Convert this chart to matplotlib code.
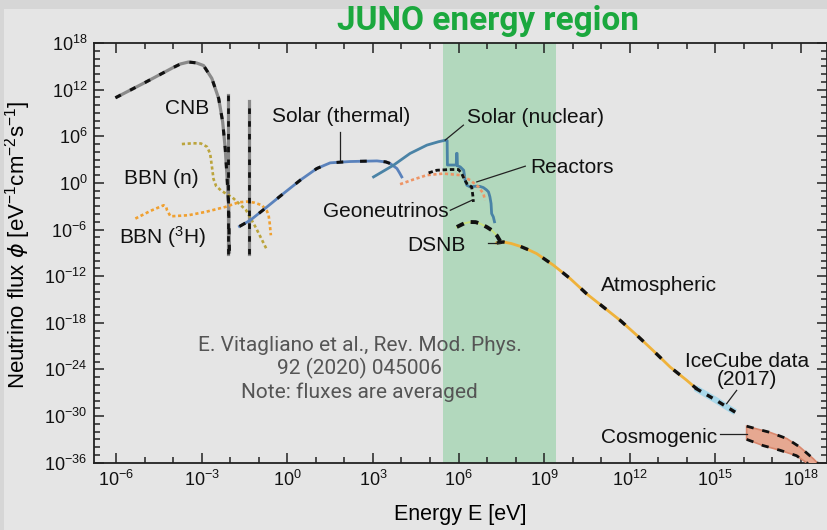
import numpy as np
import matplotlib
matplotlib.use("Agg")
import matplotlib.pyplot as plt
from matplotlib.patches import Rectangle
from matplotlib.ticker import LogLocator, FixedLocator, NullFormatter

plt.rcParams['font.family'] = ['Liberation Sans', 'DejaVu Sans']
plt.rcParams['mathtext.fontset'] = 'custom'
plt.rcParams['mathtext.rm'] = 'Liberation Sans'
plt.rcParams['mathtext.it'] = 'DejaVu Sans:italic'
plt.rcParams['mathtext.default'] = 'regular'

# ---- spectra: log10(E / eV) and log10(flux / eV^-1 cm^-2 s^-1) ----
cnb_logE = [-6.03, -5.0, -4.0, -3.75, -3.47, -3.2, -2.94, -2.65, -2.41, -2.27,
            -2.18, -2.12, -2.06, -2.04, -2.03]
cnb_logF = [10.95, 12.9, 14.85, 15.3, 15.55, 15.45, 15.1, 13.45, 10.87, 7.86,
            4.43, 0.99, -2.88, -7.6, -9.1]
cnb_line_logE = [-2.07, -1.33]
cnb_line_top = [11.3, 10.5]
cnb_line_bottom = -9.2

bbn_n_logE = [-3.70, -3.3, -3.03, -2.82, -2.71, -2.65, -2.59, -2.5, -2.32, -1.92,
              -1.45, -1.1, -0.72]
bbn_n_logF = [5.0, 5.1, 5.07, 4.65, 3.8, 2.2, 0.5, -0.4, -1.0, -1.9,
              -3.5, -5.8, -8.6]

bbn_h3_logE = [-5.33, -4.8, -4.34, -4.25, -4.22, -4.1, -3.47, -2.88, -2.18, -1.71,
               -1.4, -1.15, -0.89, -0.72, -0.66, -0.62, -0.58]
bbn_h3_logF = [-4.59, -3.6, -2.88, -3.1, -3.52, -4.3, -4.16, -3.74, -3.1, -2.5,
               -2.4, -2.55, -2.88, -3.6, -4.16, -5.2, -6.74]

sun_th_logE = [-1.68, -1.30, -0.72, -0.14, 0.45, 1.03, 1.5, 2.2, 2.8, 3.14,
               3.45, 3.6, 3.75, 3.84, 3.93, 4.01]
sun_th_logF = [-5.6, -4.8, -3.1, -1.37, 0.35, 1.85, 2.58, 2.75, 2.8, 2.83,
               2.7, 2.5, 2.1, 1.85, 1.3, 0.77]

sun_nu_logE = [3.02, 3.72, 4.30, 4.89, 5.3, 5.55, 5.6, 5.61, 5.92, 5.93, 5.95,
               5.96, 6.06, 6.18, 6.23, 6.29, 6.41, 6.58, 6.75, 6.87, 6.98, 7.05,
               7.1, 7.14, 7.16, 7.22, 7.26]
sun_nu_logF = [0.77, 2.28, 3.79, 4.86, 5.3, 5.5, 5.45, 2.3, 2.3, 3.8, 3.8,
               2.2, 2.06, 1.63, 0.35, -0.3, -0.52, -0.43, -0.45, -0.6, -0.9, -1.16,
               -1.8, -2.66, -3.95, -4.38, -5.0]

geo_logE = [4.95, 5.24, 5.71, 6.0, 6.11, 6.2, 6.29, 6.46, 6.5, 6.52]
geo_logF = [1.29, 1.63, 1.72, 1.72, 1.2, 0.5, -0.08, -0.52, -1.6, -2.45]

reac_logE = [3.95, 4.42, 4.89, 5.47, 6.06, 6.41, 6.70, 6.87, 6.93]
reac_logF = [-0.17, 0.44, 1.0, 1.2, 1.0, 0.35, -0.52, -1.37, -2.23]

dsnb_logE = [5.94, 6.2, 6.41, 6.6, 6.76, 7.0, 7.17, 7.35, 7.46]
dsnb_logF = [-5.67, -5.2, -5.03, -5.05, -5.24, -5.7, -6.1, -6.8, -7.5]

atm_logE = [7.34, 7.57, 7.85, 8.16, 8.45, 8.74, 9.33, 9.91, 10.5, 11.08, 11.67,
            12.25, 12.83, 13.42, 14.0, 14.35]
atm_logF = [-7.73, -7.6, -7.8, -8.16, -8.6, -9.1, -10.6, -12.3, -14.3, -15.98,
            -17.7, -19.6, -21.6, -23.7, -25.4, -26.5]

ice_logE = [14.3, 15.0, 15.7]
ice_logF = [-26.4, -27.9, -29.5]

cosmo_logE_up = [16.1, 16.5, 16.92, 17.51, 17.97, 18.44, 18.6]
cosmo_logF_up = [-31.3, -31.7, -32.1, -32.9, -34.0, -35.5, -36.1]
cosmo_logE_lo = [16.1, 16.68, 17.27, 17.85, 18.2, 18.3]
cosmo_logF_lo = [-33.0, -33.8, -34.4, -35.1, -36.0, -36.3]

juno_logE = [5.44, 9.4]

x_ticks_log = [-6, -3, 0, 3, 6, 9, 12, 15, 18]
y_ticks_log = [18, 12, 6, 0, -6, -12, -18, -24, -30, -36]


def p(v):
    return 10.0 ** np.asarray(v, dtype=float)


def pow_label(v):
    return '$10^{%d}$' % v if v >= 0 else '$10^{\u2212%d}$' % -v


W, H = 827, 530
fig = plt.figure(figsize=(W / 100, H / 100), dpi=100)
fig.patch.set_facecolor('#e5e5e5')
# slide backdrop strips along the top and left edges
fig.patches.append(Rectangle((0, 1 - 9 / H), 1, 9 / H, transform=fig.transFigure,
                             facecolor='#d6d6d6', edgecolor='none', zorder=0))
fig.patches.append(Rectangle((0, 0), 4 / W, 1, transform=fig.transFigure,
                             facecolor='#d6d6d6', edgecolor='none', zorder=0))

left_px, right_px, top_px, bot_px = 94.3, 826.5, 43.0, 462.7
ax = fig.add_axes([left_px / W, 1 - bot_px / H, (right_px - left_px) / W,
                   (bot_px - top_px) / H])
ax.set_facecolor('none')
ax.set_xscale('log')
ax.set_yscale('log')
ax.set_xlim(10 ** -6.77, 10 ** 18.9)
ax.set_ylim(1e-36, 1e18)

# JUNO band
ax.axvspan(p(juno_logE[0]), p(juno_logE[1]), color='#b2d8bd', zorder=0.5, lw=0)

black = '#111111'

# CNB
ax.plot(p(cnb_logE), p(cnb_logF), color='#8a8a8a', lw=2.3, zorder=3,
        solid_capstyle='butt')
ax.plot(p(cnb_logE), p(cnb_logF), color=black, lw=2.2, dashes=(2, 3.4), zorder=4)
for le, top in zip(cnb_line_logE, cnb_line_top):
    ax.plot(p([le, le]), p([cnb_line_bottom, top]), color='#8a8a8a', lw=2.3, zorder=3)
    ax.plot(p([le, le]), p([cnb_line_bottom, top]), color=black, lw=2.0,
            dashes=(2, 2.6), zorder=4)

# BBN
ax.plot(p(bbn_n_logE), p(bbn_n_logF), color='#bba43c', lw=1.9, dashes=(1.2, 1.0), zorder=3)
ax.plot(p(bbn_h3_logE), p(bbn_h3_logF), color='#f0a030', lw=1.9, dashes=(1.2, 1.0), zorder=3)

# Solar
ax.plot(p(sun_th_logE), p(sun_th_logF), color='#5a82bc', lw=2.0, zorder=3)
ax.plot(p(sun_th_logE[:12]), p(sun_th_logF[:12]), color=black, lw=2.2,
        dashes=(2.2, 5.5), zorder=4)
ax.plot(p(sun_nu_logE), p(sun_nu_logF), color='#4a83a6', lw=2.0, zorder=3)

# Reactors and geoneutrinos
ax.plot(p(reac_logE), p(reac_logF), color='#ee9465', lw=1.9, dashes=(1.2, 1.0), zorder=3)
ax.plot(p(geo_logE), p(geo_logF), color=black, lw=2.0, dashes=(1.6, 1.0), zorder=4)

# DSNB
ax.plot(p(dsnb_logE), p(dsnb_logF), color='#c9e27c', lw=1.3, zorder=3)
ax.plot(p(dsnb_logE), p(dsnb_logF), color=black, lw=2.8, dashes=(2.0, 1.8), zorder=4)

# Atmospheric
ax.plot(p(atm_logE), p(atm_logF), color='#efb23a', lw=2.0, zorder=3)
ax.plot(p(atm_logE), p(atm_logF), color=black, lw=2.4, dashes=(2.4, 5.0), zorder=4)

# IceCube
ax.plot(p(ice_logE), p(ice_logF), color='#a9d8ea', lw=4.5, zorder=3,
        solid_capstyle='butt')
ax.plot(p(ice_logE), p(ice_logF), color=black, lw=2.4, dashes=(2.0, 2.0), zorder=4)

# Cosmogenic band
band_x = np.concatenate([p(cosmo_logE_up), p(cosmo_logE_lo)[::-1]])
band_y = np.concatenate([p(cosmo_logF_up), p(cosmo_logF_lo)[::-1]])
ax.fill(band_x, band_y, facecolor='#e6a891', edgecolor='#d9876d', lw=1.2, zorder=3)
ax.plot(p(cosmo_logE_up), p(cosmo_logF_up), color=black, lw=2.0, dashes=(2.6, 3.2), zorder=4)
ax.plot(p(cosmo_logE_lo), p(cosmo_logF_lo), color=black, lw=2.0, dashes=(2.6, 3.2), zorder=4)

# labels and leader lines
lab = dict(fontsize=15, color='#111111', ha='center', va='center', zorder=6)
ax.text(p(-3.51), p(9.62), 'CNB', **lab)
ax.text(p(-4.42), p(0.6), 'BBN (n)', **lab)
ax.text(p(-4.39), p(-7.0), 'BBN ($^3$H)', **lab)
ax.text(p(1.89), p(8.59), 'Solar (thermal)', **lab)
ax.text(p(8.69), p(8.46), 'Solar (nuclear)', **lab)
ax.text(p(9.98), p(2.02), 'Reactors', **lab)
ax.text(p(3.46), p(-3.65), 'Geoneutrinos', **lab)
ax.text(p(5.22), p(-8.03), 'DSNB', **lab)
ax.text(p(13.03), p(-13.19), 'Atmospheric', **lab)
ax.text(p(16.1), p(-24.1), 'IceCube data\n(2017)', linespacing=0.95, **lab)
ax.text(p(13.03), p(-32.77), 'Cosmogenic', **lab)

leaders = [((1.85, 6.57), (1.85, 2.92)),
           ((5.53, 5.5), (6.17, 7.43)),
           ((6.64, 0.13), (8.34, 2.15)),
           ((5.71, -3.52), (6.47, -2.23)),
           ((7.05, -7.75), (7.46, -7.75)),
           ((15.4, -28.4), (15.75, -26.7)),
           ((15.17, -32.3), (16.1, -32.3))]
for (x0, y0), (x1, y1) in leaders:
    ax.plot(p([x0, x1]), p([y0, y1]), color='#222222', lw=0.9, zorder=5)

# reference note
fig.text(0.435, 1 - 369 / H,
         'E. Vitagliano et al., Rev. Mod. Phys.\n92 (2020) 045006\nNote: fluxes are averaged',
         ha='center', va='center', fontsize=15, color='#555555', family='Roboto',
         linespacing=1.2)

# title
fig.text(488 / W, 1 - 21 / H, 'JUNO energy region', ha='center', va='center',
         fontsize=24, fontweight='bold', color='#1ba83e', family='Roboto')

# axes styling
ax.xaxis.set_major_locator(FixedLocator(p(x_ticks_log)))
ax.xaxis.set_minor_locator(LogLocator(base=10, subs=(1.0,), numticks=60))
ax.yaxis.set_major_locator(FixedLocator(p(y_ticks_log)))
ax.yaxis.set_minor_locator(LogLocator(base=10, subs=(1.0,), numticks=100))
ax.xaxis.set_minor_formatter(NullFormatter())
ax.yaxis.set_minor_formatter(NullFormatter())
ax.set_xticklabels([pow_label(v) for v in x_ticks_log])
ax.set_yticklabels([pow_label(v) for v in y_ticks_log])
ax.tick_params(which='both', direction='in', top=True, right=True, width=1.1,
               color='#222222', labelsize=13, labelcolor='#111111')
ax.tick_params(which='major', length=7, pad=5)
ax.tick_params(which='minor', length=4)
for s in ax.spines.values():
    s.set_linewidth(1.3)
    s.set_color('#222222')

ax.set_xlabel('Energy E [eV]', fontsize=15.5, labelpad=10)
ax.set_ylabel('Neutrino flux $\\mathit{\\phi}$ [eV$^{\u22121}$cm$^{\u22122}$s$^{\u22121}$]',
              fontsize=16)
ax.yaxis.set_label_coords(-0.084, 0.52)

fig.savefig('out.png', dpi=100, facecolor=fig.get_facecolor())
